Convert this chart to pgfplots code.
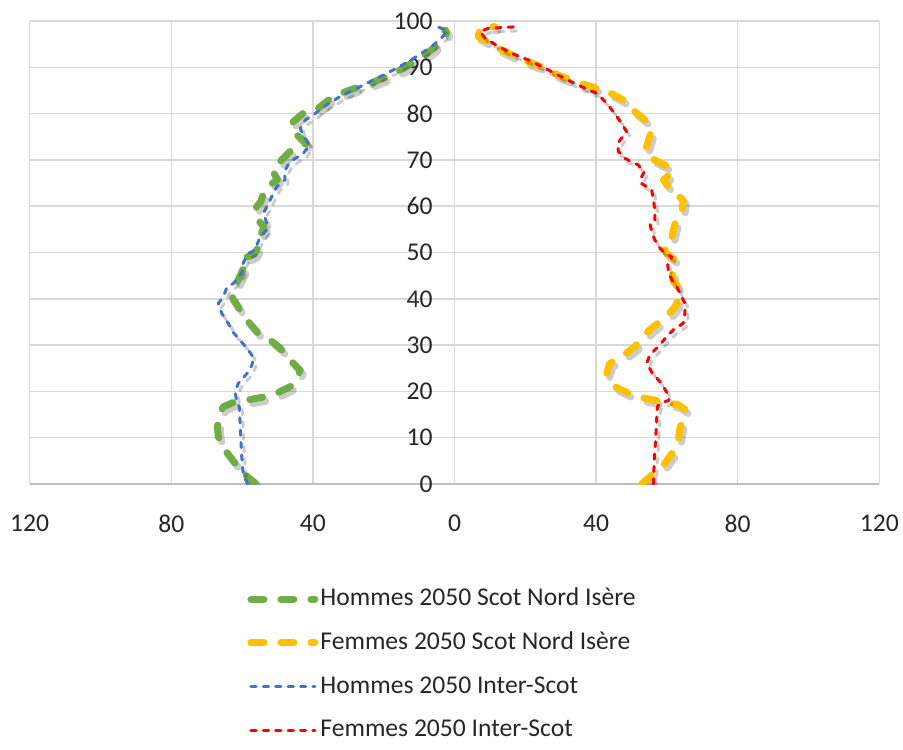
\documentclass[border=0pt]{standalone}
\usepackage{pgfplots}
\usepackage{pgfplotstable}
\pgfplotsset{compat=1.18}
\usepackage{fontspec}
\setmainfont{Carlito}

\definecolor{cgreen}{HTML}{70AD47}
\definecolor{corange}{HTML}{FFC000}
\definecolor{cblue}{HTML}{4472C4}
\definecolor{cred}{HTML}{FF0000}
\definecolor{cgrid}{HTML}{D9D9D9}
\definecolor{ctext}{HTML}{262626}

\tikzset{
  thickdash/.style={draw=#1, line width=3.5pt, line cap=round, line join=round, dash pattern=on 6.5pt off 8.5pt},
  thindash/.style={draw=#1, line width=1.5pt, line cap=round, line join=round, dash pattern=on 2.6pt off 3.6pt},
  shadow/.style={opacity=0.2, transform canvas={shift={(1.5pt,-2pt)}}},
}

% age pyramid 2050, men as negative x
\pgfplotstableread{
x y
-56 0
-59.2 2
-62 4.5
-64.8 7.3
-66.7 10.2
-67 12.4
-66.2 15.3
-65.3 16.7
-62.5 17.6
-55.9 18.5
-51.3 19.2
-46.5 21
-44.8 22.1
-43.6 24.6
-46.5 26.8
-49.3 29.4
-52.1 31.1
-55.6 32.7
-58.2 35
-60.6 37.6
-62.7 40.1
-62 42.6
-61.1 44.1
-59.8 46.2
-60.1 48.7
-56.8 49.5
-55.9 50.5
-54.9 53.4
-53.8 55.6
-56.4 57.7
-55.9 59.9
-54.7 61
-53.5 63.9
-50 65.7
-51.5 67.8
-49.3 69.6
-46.5 71.8
-41.8 73.6
-44.6 75.4
-46.3 76.8
-45.5 78.3
-42.7 80.1
-38.9 80.9
-35.6 82.9
-33.3 84
-29.5 85.1
-23.9 86.5
-18.2 88.3
-14.5 89.8
-9.7 91.9
-6 94.1
-2.2 97.3
-2.5 98
}\hommesScot

\pgfplotstableread{
x y
52.9 0
56.2 2.3
59.5 4.5
61.4 6.6
63.2 9.5
63.7 12
64.6 14.5
65.3 16
63.2 17.1
58.5 17.8
53.8 18.5
49.1 19.6
45.3 21
43 23.9
43.9 26.1
47.2 27.5
51 29.7
53.3 32
56.2 34
59.9 36.1
62.3 38.3
63.7 40.5
63.2 42.6
61.8 43.7
61.4 46.2
62.3 48.4
59.9 49.8
59 51.3
61.4 53.4
62.3 56.3
64.2 58.5
64.6 61.3
60.4 64.2
59 65.7
61.8 67.5
60.4 68.5
55.7 70.3
53.8 71.8
54.7 73.9
55.7 76.5
53.8 78.6
51 80.4
48.6 82.6
45.8 83.7
43.4 84.7
38.8 85.8
34 86.9
29.3 88.3
25.6 89.8
20.8 91.2
16.2 92.7
12.4 94.1
9.5 95.5
6.7 96.6
7.2 98.4
11.4 98.8
}\femmesScot

\pgfplotstableread{
x y
-58.5 0
-59.7 2.3
-60.1 5.9
-60.4 10.2
-60.6 13.8
-60.8 16.7
-61.5 17.8
-62 19.9
-61.1 21.7
-57.8 24.6
-56.6 27.1
-58.2 28.9
-60.6 31.1
-62.7 32.9
-63.9 34.7
-65.8 36.9
-66.7 39
-65.3 40.5
-64.2 42.6
-62.5 43.3
-60.1 45.5
-59.7 47.7
-58.2 49.8
-56.4 50.5
-54.9 53.4
-53 54.9
-53 56.3
-54 58.5
-53 59.9
-51.6 62.1
-50.2 64.2
-47.9 65.7
-48 67.6
-46.5 69.6
-42.7 71.4
-41 73.2
-42.2 74.7
-43.6 76.8
-42.2 78.6
-39.9 79.7
-36.1 81.9
-32.3 83.7
-26.7 85.8
-22 87.6
-16.3 89.8
-11.6 91.9
-6.4 94.5
-3.2 96.7
-2.2 98
-5 98.8
}\hommesInter

\pgfplotstableread{
x y
56.2 0
56.4 4.5
56.8 9.5
57.1 13.8
57.3 16.7
58.1 17.4
60.6 18.1
60.4 19.2
58.5 21.7
55.9 23.9
54.3 26.1
55.2 27.9
57.6 29.7
59.9 31.8
61.8 33.3
64.6 34.7
65.1 36.9
65.1 39
63.7 41.2
62.8 42.6
61.4 44.1
60.4 45.9
60.2 47.7
61.4 49
59.5 49.8
57.6 51.3
56.6 52.7
55.7 54.5
55.2 56.3
56.6 57
56.6 59.2
56.2 61.3
55.7 63.5
52.9 64.9
52.4 65.7
53.6 67.4
51.9 68.9
48.2 70.3
46.3 71.8
46.1 73.6
48.6 76.1
47.2 77.9
44.9 80.4
42.5 82.6
40.2 84.4
37.8 85.1
34 86.5
29.3 88.3
25.6 89.8
20.8 91.6
16.2 93
12.4 94.5
8.6 96.3
7.2 97.7
9.5 98.4
18.5 98.8
}\femmesInter

\begin{document}
\begin{tikzpicture}
\useasboundingbox (0,0) rectangle (451.5pt,-374.5pt);
\begin{axis}[
  at={(14.85pt,-242pt)}, anchor=south west,
  scale only axis, width=424.8pt, height=231.5pt,
  xmin=-120, xmax=120, ymin=0, ymax=100,
  xtick={-120,-80,...,120}, xticklabels={120,80,40,0,40,80,120},
  ytick={0,10,...,100},
  grid=major, major grid style={draw=cgrid, line width=0.75pt},
  axis x line*=bottom, axis y line*=left,
  x axis line style={draw=black!25, line width=0.9pt},
  y axis line style={draw=none},
  major tick length=0pt, tick style={draw=none},
  /pgf/number format/assume math mode=true,
  tick label style={font=\fontsize{12.8}{15}\selectfont, color=ctext},
  yticklabel style={xshift=205pt},
  xticklabel style={yshift=-12pt},
  legend style={at={(rel axis cs:0.2558,-0.219)}, anchor=north west,
    draw=none, fill=none, inner sep=0pt, row sep=8.3pt,
    font=\fontsize{12.8}{15}\selectfont, text=ctext,
    nodes={inner sep=1pt, text height=9pt, text depth=2.5pt}},
  legend cell align=left,
  legend image code/.code={\draw[#1] (0pt,0pt) -- (32pt,0pt);},
]
% gridline at x = 0
\draw[cgrid, line width=0.75pt] (axis cs:0,0) -- (axis cs:0,100);
\addplot[thickdash=black, shadow, forget plot] table {\hommesScot};
\addplot[thickdash=cgreen] table {\hommesScot};
\addplot[thickdash=black, shadow, forget plot] table {\femmesScot};
\addplot[thickdash=corange] table {\femmesScot};
\addplot[thindash=black, shadow, forget plot] table {\hommesInter};
\addplot[thindash=cblue] table {\hommesInter};
\addplot[thindash=black, shadow, forget plot] table {\femmesInter};
\addplot[thindash=cred] table {\femmesInter};
\legend{Hommes 2050 Scot Nord Isère, Femmes 2050 Scot Nord Isère, Hommes 2050 Inter-Scot, Femmes 2050 Inter-Scot}
\end{axis}
\end{tikzpicture}
\end{document}
